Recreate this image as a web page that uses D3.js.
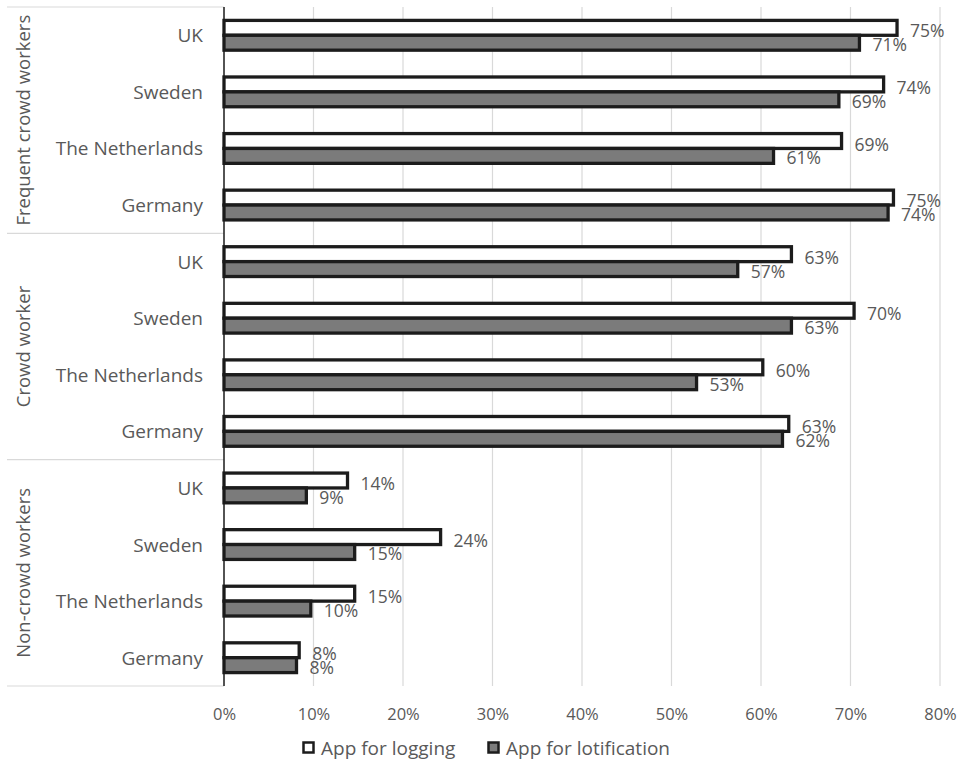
<!DOCTYPE html>
<html>
<head>
<meta charset="utf-8">
<script src="https://cdn.jsdelivr.net/npm/d3@7/dist/d3.min.js"></script>
<style>
  body { margin: 0; background: #fff; }
  text { font-family: "Open Sans", "Liberation Sans", sans-serif; fill: #595959; }
</style>
</head>
<body>
<div id="chart"></div>
<script>
// chart data
var groups = ["Frequent crowd workers", "Crowd worker", "Non-crowd workers"];
var countries = ["UK", "Sweden", "The Netherlands", "Germany"];
var seriesNames = ["App for logging", "App for lotification"];
var logging = [75.2, 73.7, 69.0, 74.8, 63.4, 70.4, 60.2, 63.1, 13.8, 24.2, 14.6, 8.4];
var lotification = [71.0, 68.7, 61.4, 74.2, 57.4, 63.4, 52.8, 62.4, 9.2, 14.6, 9.7, 8.1];
var xTicks = [0, 10, 20, 30, 40, 50, 60, 70, 80];

var width = 965, height = 762;
var margin = {top: 7, left: 224, right: 25, bottom: 76};
var plotW = width - margin.left - margin.right,
  plotH = height - margin.top - margin.bottom;

var svg = d3.select("#chart").append("svg")
  .attr("width", width)
  .attr("height", height);

var g = svg.append("g")
  .attr("transform", "translate(" + margin.left + "," + margin.top + ")");

// one row per group/country pair
var rows = [];
groups.forEach(function (grp, gi) {
  countries.forEach(function (c, ci) {
    var i = gi * countries.length + ci;
    rows.push({key: grp + "|" + c, group: grp, country: c, log: logging[i], lot: lotification[i]});
  });
});

var x = d3.scaleLinear().domain([0, 80]).range([0, plotW]);
var y = d3.scaleBand().domain(rows.map(function (d) { return d.key; })).range([0, plotH]);
var inner = d3.scaleBand().domain(seriesNames).range([0, y.bandwidth()]).paddingOuter(0.9).paddingInner(0);

// gridlines
g.selectAll("line.grid")
  .data(xTicks.slice(1))
  .enter().append("line")
  .attr("class", "grid")
  .attr("x1", function (d) { return x(d); })
  .attr("x2", function (d) { return x(d); })
  .attr("y1", 0)
  .attr("y2", plotH)
  .attr("stroke", "#d9d9d9")
  .attr("stroke-width", 1.2);

// group separators on the left
var groupH = plotH / groups.length;
var seps = d3.range(groups.length + 1);
g.selectAll("line.sep")
  .data(seps)
  .enter().append("line")
  .attr("class", "sep")
  .attr("x1", 7 - margin.left)
  .attr("x2", 0)
  .attr("y1", function (d) { return d * groupH; })
  .attr("y2", function (d) { return d * groupH; })
  .attr("stroke", "#d9d9d9")
  .attr("stroke-width", 1.2);

// bars
var fills = {"App for logging": "#ffffff", "App for lotification": "#7b7b7b"};
rows.forEach(function (r) {
  [["App for logging", r.log, 2.5], ["App for lotification", r.lot, 1.5]].forEach(function (s) {
    var by = y(r.key) + inner(s[0]);
    g.append("rect")
      .attr("x", x(0))
      .attr("y", by)
      .attr("width", x(s[1]))
      .attr("height", inner.bandwidth())
      .attr("fill", fills[s[0]])
      .attr("stroke", "#1c1c1c")
      .attr("stroke-width", 3.3);
    g.append("text")
      .attr("x", x(s[1]) + 13)
      .attr("y", by + inner.bandwidth() / 2 + s[2])
      .attr("dominant-baseline", "central")
      .attr("font-size", 17.5)
      .text(Math.round(s[1]) + "%");
  });
});

// category labels
g.selectAll("text.cat")
  .data(rows)
  .enter().append("text")
  .attr("class", "cat")
  .attr("x", -21)
  .attr("y", function (d) { return y(d.key) + y.bandwidth() / 2; })
  .attr("text-anchor", "end")
  .attr("dominant-baseline", "central")
  .attr("font-size", 19)
  .text(function (d) { return d.country; });

// group labels (rotated)
g.selectAll("text.grp")
  .data(groups)
  .enter().append("text")
  .attr("class", "grp")
  .attr("transform", function (d, i) {
    return "translate(" + (22 - margin.left) + "," + (i * groupH + groupH / 2) + ") rotate(-90)";
  })
  .attr("text-anchor", "middle")
  .attr("dominant-baseline", "central")
  .attr("font-size", 18.5)
  .text(function (d) { return d; });

// x axis
var xAxis = g.append("g")
  .attr("transform", "translate(0," + plotH + ")")
  .call(d3.axisBottom(x).tickValues(xTicks).tickSize(0).tickPadding(22)
    .tickFormat(function (d) { return d + "%"; }));
xAxis.select(".domain").remove();
xAxis.selectAll("text").attr("font-size", 16.5).style("font-family", null).attr("fill", "#595959");

// vertical axis line
g.append("line")
  .attr("x1", 0).attr("x2", 0)
  .attr("y1", 0).attr("y2", plotH)
  .attr("stroke", "#1a1a1a")
  .attr("stroke-width", 1.5);

// legend
var legend = svg.append("g").attr("transform", "translate(302,748)");
var legX = [0, 185];
seriesNames.forEach(function (s, i) {
  legend.append("rect")
    .attr("x", legX[i] + 1.5)
    .attr("y", -5.5)
    .attr("width", 10)
    .attr("height", 10)
    .attr("fill", fills[s])
    .attr("stroke", "#1c1c1c")
    .attr("stroke-width", 2.5);
  legend.append("text")
    .attr("x", legX[i] + 19)
    .attr("y", 0)
    .attr("dominant-baseline", "central")
    .attr("font-size", 19)
    .text(s);
});
</script>
</body>
</html>
